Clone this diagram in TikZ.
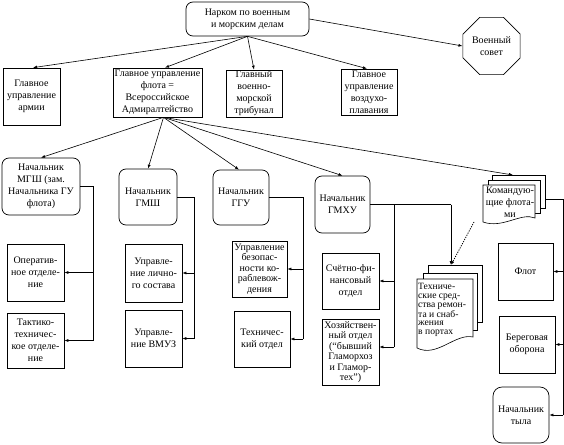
\documentclass[tikz,border=0pt]{standalone}
\usepackage{fontspec}
\setmainfont{Liberation Serif}
\usetikzlibrary{arrows.meta,shapes.geometric,calc}
\begin{document}
\begin{tikzpicture}[x=1pt,y=-1pt,
  font=\rmfamily\fontsize{10}{12}\selectfont,
  bx/.style={draw, line width=0.7pt, align=center, inner sep=1pt},
  rbx/.style={bx, rounded corners=7pt},
  small/.style={font=\rmfamily\fontsize{10}{10.5}\selectfont},
  page/.style={draw, fill=white, line width=0.6pt},
  con/.style={line width=0.6pt},
  arr/.style={con, -{Latex[length=4pt,width=3pt]}},
  dotarr/.style={line width=0.8pt, dash pattern=on 1.2pt off 1.2pt, -{Latex[length=4pt,width=3pt]}}
]
\useasboundingbox (0,0) rectangle (564,444);

% top level
\node[rbx, minimum width=123pt, minimum height=34pt] (nar) at (247.5,19) {Нарком по военным\\и морским делам};
\node[draw, line width=0.7pt, regular polygon, regular polygon sides=8, minimum size=62pt, inner sep=0pt, align=center] (sov) at (491.5,46) {Военный\\совет};

\node[bx, minimum width=57pt, minimum height=57pt] (arm) at (31.5,96.5) {Главное\\управление\\армии};
\node[bx, minimum width=89pt, minimum height=49pt] (guf) at (157.5,92.5) {Главное управление\\флота =\\Всероссийское\\Адмиралтейство};
\node[bx, minimum width=56pt, minimum height=47pt] (tri) at (254,93.5) {Главный\\военно-\\морской\\трибунал};
\node[bx, minimum width=56pt, minimum height=46pt] (voz) at (369,92) {Главное\\управление\\воздухо-\\плавания};

% second level
\node[rbx, minimum width=78pt, minimum height=57pt] (mgsh) at (41,186.5) {Начальник\\МГШ (зам.\\Начальника ГУ\\флота)};
\node[rbx, minimum width=58pt, minimum height=56pt] (gmsh) at (148,197) {Начальник\\ГМШ};
\node[rbx, minimum width=56pt, minimum height=55pt] (ggu) at (241,197.5) {Начальник\\ГГУ};
\node[rbx, minimum width=55pt, minimum height=57pt] (gmhu) at (342.5,204.5) {Начальник\\ГМХУ};

% Командующие флотами (document stack)
\draw[page] (492,175) rectangle (545,208);
\draw[page] (488,180) rectangle (540,213);
\draw[page] (483,185) -- (535,185) -- (535,218) .. controls (521,212) and (503,229) .. (483,222) -- cycle;
\node[align=center, inner sep=0pt] (kom) at (510,202) {Командую-\\щие флота-\\ми};
\coordinate (komtop) at (513,175);
\coordinate (komright) at (545,199);
\coordinate (kombot) at (474,222);

% third level
\node[bx, minimum width=57pt, minimum height=57pt] (oper) at (35.5,272.5) {Оператив-\\ное отделе-\\ние};
\node[bx, minimum width=57pt, minimum height=55pt] (takt) at (35.5,340.5) {Тактико-\\техничес-\\кое отделе-\\ние};
\node[bx, minimum width=57pt, minimum height=58pt] (lich) at (153.5,273) {Управле-\\ние лично-\\го состава};
\node[bx, minimum width=57pt, minimum height=57pt] (vmuz) at (153.5,338.5) {Управле-\\ние ВМУЗ};
\node[bx, small, minimum width=55pt, minimum height=56pt] (bez) at (259.5,269) {Управление\\безопас-\\ности ко-\\раблевож-\\дения};
\node[bx, minimum width=56pt, minimum height=56pt] (tech) at (262,339) {Техничес-\\кий отдел};
\node[bx, minimum width=57pt, minimum height=56pt] (schet) at (350.5,281) {Счётно-фи-\\нансовый\\отдел};
\node[bx, small, minimum width=57pt, minimum height=66pt] (hoz) at (350.5,352) {Хозяйствен-\\ный отдел\\(“бывший\\Гламорхоз\\и Гламор-\\тех”)};

% Технические средства (document stack)
\draw[page] (428,265) rectangle (482,322);
\draw[page] (423,273) rectangle (477,330);
\draw[page] (417,279) -- (473,279) -- (473,337) .. controls (455,333) and (437,358) .. (417,348) -- cycle;
\node[anchor=north west, align=left, inner sep=0pt, font=\rmfamily\fontsize{9.6}{8.8}\selectfont] (tsr) at (418,283) {Техниче-\\ские сред-\\ства ремон-\\та и снаб-\\жения\\в портах};
\coordinate (tsrtop) at (451,265);

\node[bx, minimum width=55pt, minimum height=57pt] (flot) at (525.5,271.5) {Флот};
\node[bx, minimum width=56pt, minimum height=57pt] (ber) at (527,344.5) {Береговая\\оборона};
\node[rbx, minimum width=56pt, minimum height=56pt, rounded corners=9pt] (tyl) at (521,415) {Начальник\\тыла};

% connectors from Нарком
\draw[arr] (nar.south) -- ([xshift=1.5pt]arm.north);
\draw[arr] (nar.south) -- ([xshift=7.5pt]guf.north);
\draw[arr] (nar.south) -- (tri.north);
\draw[arr] (nar.south) -- ([xshift=-2pt]voz.north);
\draw[arr] (nar.east) -- (sov.west);

% connectors from ГУ флота
\coordinate (gufo) at ($(guf.south)+(6,0)$);
\draw[arr] (gufo) -- (mgsh.north);
\draw[arr] (gufo) -- (gmsh.north);
\draw[arr] (gufo) -- ([xshift=-2pt]ggu.north);
\draw[arr] (gufo) -- (gmhu.north);
\draw[arr] (gufo) -- (komtop);

% brackets
\coordinate (b1) at (93,186.5);
\draw[con] (mgsh.east) -- (b1) -- (b1 |- takt.east);
\draw[arr] (b1 |- oper.east) -- (oper.east);
\draw[arr] (b1 |- takt.east) -- (takt.east);

\coordinate (b2) at (194,197);
\draw[con] (gmsh.east) -- (b2) -- (b2 |- vmuz.east);
\draw[arr] (b2 |- lich.east) -- (lich.east);
\draw[arr] (b2 |- vmuz.east) -- (vmuz.east);

\coordinate (b3) at (303,197.5);
\draw[con] (ggu.east) -- (b3) -- (b3 |- tech.east);
\draw[arr] (b3 |- bez.east) -- (bez.east);
\draw[arr] (b3 |- tech.east) -- (tech.east);

\coordinate (b4) at (394,204.5);
\coordinate (b4r) at (451,204.5);
\draw[con] (gmhu.east) -- (b4r);
\draw[arr] (b4r) -- (tsrtop);
\draw[con] (b4) -- (394,347);
\draw[arr] (b4 |- schet.east) -- (schet.east);
\draw[arr] (394,347) -- (hoz.east |- 0,347);

\coordinate (b5) at (563,199);
\draw[con] (komright) -- (b5) -- (b5 |- tyl.east);
\draw[arr] (b5 |- flot.east) -- (flot.east);
\draw[arr] (b5 |- ber.east) -- (ber.east);
\draw[arr] (b5 |- tyl.east) -- (tyl.east);

\draw[dotarr] (kombot) -- (tsrtop);
\end{tikzpicture}
\end{document}
